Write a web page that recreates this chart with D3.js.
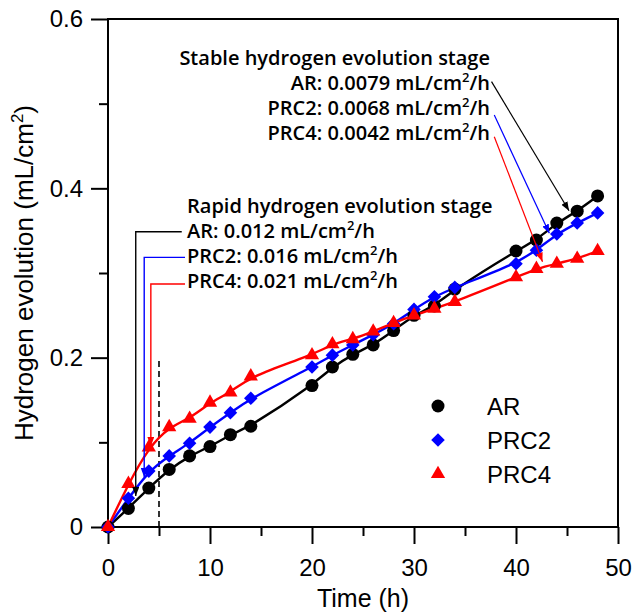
<!DOCTYPE html>
<html><head><meta charset="utf-8">
<script src="https://cdn.jsdelivr.net/npm/d3@7"></script>
<style>html,body{margin:0;padding:0;background:#fff;}</style>
</head><body>
<svg id="chart" width="634" height="615"></svg>
<script>
// ---- data ----
const times = [0,2,4,6,8,10,12,14,20,22,24,26,28,30,32,34,40,42,44,46,48];
const AR   = [0,0.022,0.046,0.068,0.084,0.095,0.109,0.119,0.167,0.189,0.204,0.215,0.232,0.250,0.261,0.281,0.326,0.339,0.359,0.373,0.391];
const PRC2 = [0,0.034,0.066,0.084,0.099,0.118,0.135,0.152,0.189,0.203,0.215,0.227,0.240,0.257,0.272,0.283,0.311,0.327,0.346,0.359,0.371];
const PRC4 = [0,0.051,0.094,0.118,0.128,0.147,0.159,0.178,0.203,0.216,0.222,0.231,0.241,0.250,0.258,0.266,0.295,0.305,0.311,0.317,0.326];
const seriesNames = ["AR","PRC2","PRC4"];
const xTicks = [0,10,20,30,40,50];
const xMinorTicks = [5,15,25,35,45];
const yTicks = [0,0.2,0.4,0.6];
const yTickLabels = ["0","0.2","0.4","0.6"];
const yMinorTicks = [0.1,0.3,0.5];
const rapidTitle = "Rapid hydrogen evolution stage";
const rapidRates = ["0.012","0.016","0.021"];
const stableTitle = "Stable hydrogen evolution stage";
const stableRates = ["0.0079","0.0068","0.0042"];
const dashedTime = 5, dashedTop = 0.2;

// ---- layout ----
const svg = d3.select("#chart");
const x = d3.scaleLinear([0,50],[108,618]);
const y = d3.scaleLinear([0,0.6],[527,19]);
const colors = {AR:"#000000", PRC2:"#0000ff", PRC4:"#ff0000"};
const vals = {AR, PRC2, PRC4};
const tickFont = "'Liberation Sans', Arial, sans-serif";
const annFont = "'Open Sans', sans-serif";
const annSize = "20px", annWeight = 600;

// arrow markers
const defs = svg.append("defs");
Object.entries(colors).forEach(([k,c])=>{
  defs.append("marker").attr("id","arr-"+k)
    .attr("markerUnits","userSpaceOnUse").attr("markerWidth",9).attr("markerHeight",7)
    .attr("refX",9).attr("refY",3.5).attr("orient","auto")
    .append("path").attr("d","M0,0 L9,3.5 L0,7 Z").attr("fill",c);
});

// axes
const gx = svg.append("g").attr("transform",`translate(0,${y(0)})`)
  .call(d3.axisBottom(x).tickValues(xTicks).tickSize(17).tickPadding(15).tickFormat(d3.format("d")));
const gxm = svg.append("g").attr("transform",`translate(0,${y(0)})`)
  .call(d3.axisBottom(x).tickValues(xMinorTicks).tickSize(9).tickFormat(""));
const gy = svg.append("g").attr("transform",`translate(${x(0)},0)`)
  .call(d3.axisLeft(y).tickValues(yTicks).tickSize(17).tickPadding(8).tickFormat((d,i)=>yTickLabels[i]));
const gym = svg.append("g").attr("transform",`translate(${x(0)},0)`)
  .call(d3.axisLeft(y).tickValues(yMinorTicks).tickSize(9).tickFormat(""));
[gx,gxm,gy,gym].forEach(g=>{
  g.select(".domain").remove();
  g.selectAll("line").attr("stroke","#000").attr("stroke-width",2);
  g.selectAll("text").attr("fill","#000").style("font-family",tickFont).style("font-size","24px");
});

// frame
svg.append("rect").attr("x",x(0)).attr("y",y(0.6)).attr("width",x(50)-x(0)).attr("height",y(0)-y(0.6))
  .attr("fill","none").attr("stroke","#000").attr("stroke-width",2);

// axis titles
svg.append("text").attr("x",(x(0)+x(50))/2).attr("y",607).attr("text-anchor","middle")
  .style("font-family",tickFont).style("font-size","25px").text("Time (h)");
const yt = svg.append("text").attr("transform",`translate(33,${(y(0)+y(0.6))/2}) rotate(-90)`)
  .attr("text-anchor","middle").style("font-family",tickFont).style("font-size","26px");
yt.append("tspan").text("Hydrogen evolution (mL/cm");
yt.append("tspan").attr("dy",-10).style("font-size","17px").text("2");
yt.append("tspan").attr("dy",10).text(")");

// dashed line
svg.append("line").attr("x1",x(dashedTime)).attr("x2",x(dashedTime)).attr("y1",y(0)).attr("y2",y(dashedTop))
  .attr("stroke","#000").attr("stroke-width",1.6).attr("stroke-dasharray","6,4");

// lines (smoothed fit through the data)
const line = d3.line().x(d=>x(d[0])).y(d=>y(d[1])).curve(d3.curveBasis);
seriesNames.forEach(s=>{
  svg.append("path").datum(times.map((t,i)=>[t,vals[s][i]]))
    .attr("d",line).attr("fill","none").attr("stroke",colors[s]).attr("stroke-width",2.4);
});

// markers
const symbols = {
  AR: d3.symbol().type(d3.symbolCircle).size(133),
  PRC2: d3.symbol().type(d3.symbolSquare).size(92),
  PRC4: d3.symbol().type(d3.symbolTriangle).size(88)
};
const rot = {AR:0, PRC2:45, PRC4:0};
seriesNames.forEach(s=>{
  svg.append("g").selectAll("path").data(times.map((t,i)=>[t,vals[s][i]])).join("path")
    .attr("d",symbols[s]()).attr("fill",colors[s])
    .attr("transform",d=>`translate(${x(d[0])},${y(d[1])}) rotate(${rot[s]})`);
});

// annotation helper
function supText(g, xx, yy, anchor, prefix){
  const t = g.append("text").attr("x",xx).attr("y",yy).attr("text-anchor",anchor)
    .style("font-family",annFont).style("font-size",annSize).style("font-weight",annWeight).attr("fill","#000");
  t.append("tspan").text(prefix+" mL/cm");
  t.append("tspan").attr("dy",-8).style("font-size","13px").text("2");
  t.append("tspan").attr("dy",8).text("/h");
}
const ann = svg.append("g");
// stable stage (right-aligned)
const sx = x(37.45), sy0 = y(0.5456);
ann.append("text").attr("x",sx).attr("y",sy0).attr("text-anchor","end")
  .style("font-family",annFont).style("font-size",annSize).style("font-weight",annWeight).text(stableTitle);
seriesNames.forEach((s,i)=>supText(ann, sx, sy0+25*(i+1), "end", `${s}: ${stableRates[i]}`));
// rapid stage (left-aligned)
const rx = x(7.75), ry0 = y(0.3709);
ann.append("text").attr("x",rx).attr("y",ry0).attr("text-anchor","start")
  .style("font-family",annFont).style("font-size",annSize).style("font-weight",annWeight).text(rapidTitle);
seriesNames.forEach((s,i)=>supText(ann, rx, ry0+25*(i+1), "start", `${s}: ${rapidRates[i]}`));

// stable arrows (data coordinates)
const stableArrows = {AR:[[37.6,0.526],[45.2,0.3736]], PRC2:[[37.87,0.4866],[43.27,0.3469]], PRC4:[[37.87,0.461],[42.6,0.3133]]};
// rapid arrows (elbow)
const rapidArrows = {AR:[[7.23,0.3488],[2.72,0.3488],[2.72,0.0366]], PRC2:[[7.55,0.3185],[3.55,0.3185],[3.55,0.059]], PRC4:[[7.55,0.287],[4.2,0.287],[4.2,0.0957]]};
const pl = d3.line().x(d=>x(d[0])).y(d=>y(d[1]));
seriesNames.forEach(s=>{
  ann.append("path").attr("d",pl(stableArrows[s])).attr("fill","none").attr("stroke",colors[s])
    .attr("stroke-width",1.2).attr("marker-end",`url(#arr-${s})`);
  ann.append("path").attr("d",pl(rapidArrows[s])).attr("fill","none").attr("stroke",colors[s])
    .attr("stroke-width",1.4).attr("marker-end",`url(#arr-${s})`);
});

// legend
const leg = svg.append("g");
seriesNames.forEach((s,i)=>{
  const cy = 406 + 34*i;
  leg.append("path").attr("d",symbols[s]()).attr("fill",colors[s])
    .attr("transform",`translate(438,${cy}) rotate(${rot[s]})`);
  leg.append("text").attr("x",487).attr("y",cy+9).style("font-family",tickFont).style("font-size","24px").text(s);
});
</script>
</body></html>
